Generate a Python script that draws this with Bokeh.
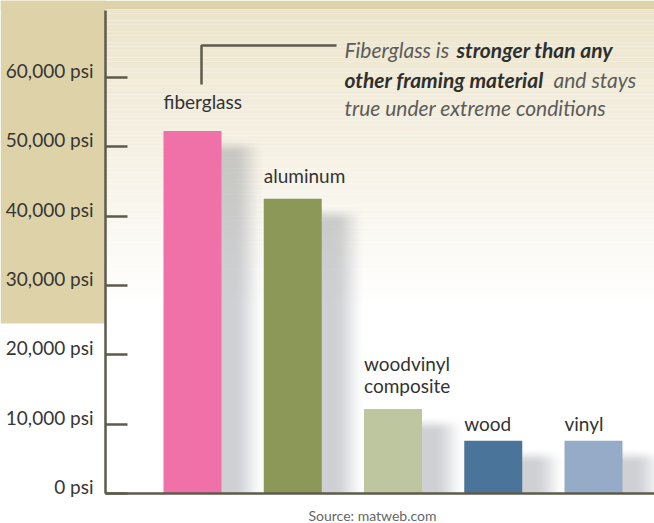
import numpy as np
from bokeh.plotting import figure
from bokeh.models import Range1d, FixedTicker
from bokeh.core.properties import value
from bokeh.embed import file_html
from bokeh.resources import INLINE

# ---------------- data ----------------
materials = ["fiberglass", "aluminum", "woodvinyl\ncomposite", "wood", "vinyl"]
strength_psi = [52300, 42500, 12200, 7600, 7600]
bar_colors = ["#F070A8", "#8C9858", "#BEC6A0", "#4A7499", "#95ABC8"]
tick_values = [0, 10000, 20000, 30000, 40000, 50000, 60000]
tick_labels = ["0 psi", "10,000 psi", "20,000 psi", "30,000 psi",
               "40,000 psi", "50,000 psi", "60,000 psi"]
note_lines = [
    [("Fiberglass is", "italic"), ("stronger than any", "bold italic")],
    [("other framing material", "bold italic"), ("and stays", "italic")],
    [("true under extreme conditions", "italic")],
]
source_note = "Source: matweb.com"

# ---------------- layout (pixels) ----------------
W, H = 654, 523
px_per_unit = 69.33 / 10000.0     # vertical scale
bar_pitch = 100.25                 # px between bar centres
first_center_px = 192
baseline_px = 493
axis_px = 105

def px_x(px):
    return (px - first_center_px) / bar_pitch

def px_y(py):
    return (baseline_px - py) / px_per_unit

x_start, x_end = px_x(0), px_x(W)
y_start, y_end = px_y(H), px_y(0)
bar_w = 58 / bar_pitch
label_gap_px = [21, 15, 15, 9, 9]   # gap between bar top and label baseline
label_line_px = 22
BASE_FIX = 8.5                      # correction for renderer baseline placement

AXIS_COL = "#5E5B4C"
TAN = "#DED3A8"
FONT = "Lato"

p = figure(width=W, height=H, x_range=Range1d(x_start, x_end), y_range=Range1d(y_start, y_end),
           output_backend="svg", toolbar_location=None,
           min_border=0, min_border_left=0, min_border_right=0, min_border_top=0, min_border_bottom=0)
p.outline_line_color = None
p.grid.visible = False
p.background_fill_color = "white"
p.border_fill_color = "white"

# background gradient inside the chart area
n = 80
edges = np.linspace(px_y(305), px_y(9), n + 1)
top_rgb = np.array([236, 228, 203])
t = (np.arange(n) + 0.5) / n
grad_cols = ["#%02x%02x%02x" % tuple(int(round(255 + (c - 255) * ti)) for c in top_rgb) for ti in t]
p.quad(left=px_x(axis_px), right=x_end, bottom=edges[:-1], top=edges[1:],
       fill_color=grad_cols, line_color=None)

# tan panel behind upper y labels, and top strip
p.quad(left=[x_start], right=[px_x(axis_px)], bottom=[px_y(323)], top=[y_end],
       fill_color=TAN, line_color=None)
p.quad(left=[x_start], right=[x_end], bottom=[px_y(8.7)], top=[y_end],
       fill_color=TAN, line_color=None)

xs = np.arange(len(materials))
vals = np.array(strength_psi, dtype=float)

# soft (blurred) drop shadows as small RGBA images
SH_W = 52
def shadow_image(h_px):
    dx = np.arange(SH_W) + 0.5 - 2
    sx = np.clip((44 - dx) / 32, 0, 1)
    sx = sx * sx * (3 - 2 * sx)
    rr = np.arange(h_px) + 0.5
    dtop = h_px - rr
    sy = np.clip((dtop - 8) / 16, 0, 1)
    sy = sy * sy * (3 - 2 * sy)
    alpha = 0.34 * np.outer(sy, sx)
    img = np.empty((h_px, SH_W), dtype=np.uint32)
    view = img.view(dtype=np.uint8).reshape((h_px, SH_W, 4))
    view[..., 0] = 111
    view[..., 1] = 117
    view[..., 2] = 128
    view[..., 3] = np.round(alpha * 255).astype(np.uint8)
    return img

for i in range(len(materials)):
    h_px = int(round(vals[i] * px_per_unit))
    p.image_rgba(image=[shadow_image(h_px)], x=xs[i] + bar_w / 2 - 2 / bar_pitch, y=0,
                 dw=SH_W / bar_pitch, dh=vals[i])

# bars
p.vbar(x=xs, top=vals, width=bar_w, fill_color=bar_colors, line_color=None)

# bar labels (one text mark per line, stacked upward from the bar top)
lab_x, lab_y, lab_t, lab_off = [], [], [], []
for i, name in enumerate(materials):
    lines = name.split("\n")
    for j, ln in enumerate(reversed(lines)):
        lab_x.append(xs[i] - bar_w / 2)
        lab_y.append(vals[i])
        lab_t.append(ln)
        lab_off.append(-(label_gap_px[i] + BASE_FIX + j * label_line_px))
p.text(x=lab_x, y=lab_y, text=lab_t, y_offset=lab_off,
       text_align="left", text_baseline="alphabetic", text_font=value(FONT),
       text_font_size="19px", text_color="#333333")

# annotation bracket
p.line(x=[px_x(201), px_x(201), px_x(336)], y=[px_y(84), px_y(45), px_y(45)],
       line_color=AXIS_COL, line_width=2.5)

note_x = [[344, 456], [344, 553], [344]]
note_y = [48.5, 78.5, 106.5]
for li, line in enumerate(note_lines):
    for si, (txt, style) in enumerate(line):
        bold = "bold" in style
        p.text(x=[px_x(note_x[li][si])], y=[px_y(note_y[li])], text=[txt],
               text_align="left", text_baseline="middle", text_font=value(FONT),
               text_font_size="21px", text_font_style=style,
               text_color="#2f2f2f" if bold else "#5c5c5c")

# y axis (line + inward ticks), labels drawn from the tick arrays
ya = p.yaxis[0]
ya.fixed_location = px_x(axis_px)
ya.bounds = (0, px_y(10))
ya.ticker = FixedTicker(ticks=tick_values)
ya.major_tick_in = 22
ya.major_tick_out = 0
ya.minor_tick_line_color = None
ya.axis_line_color = AXIS_COL
ya.axis_line_width = 2.5
ya.major_tick_line_color = AXIS_COL
ya.major_tick_line_width = 2.5
ya.major_label_text_font_size = "0px"
ya.major_label_text_alpha = 0

p.text(x=[px_x(axis_px)] * len(tick_values), y=tick_values, text=tick_labels,
       x_offset=-12, y_offset=-7, text_align="right", text_baseline="alphabetic",
       text_font=value(FONT), text_font_size="19px", text_color="#363636")

# x axis baseline
xa = p.xaxis[0]
xa.fixed_location = 0
xa.bounds = (px_x(axis_px), x_end)
xa.ticker = FixedTicker(ticks=[])
xa.major_tick_line_color = None
xa.minor_tick_line_color = None
xa.major_label_text_font_size = "0px"
xa.axis_line_color = AXIS_COL
xa.axis_line_width = 2.5

# source note
p.text(x=[px_x(372)], y=[px_y(515)], text=[source_note], text_align="center",
       text_baseline="middle", text_font=value(FONT), text_font_size="14px",
       text_color="#666666")

open("out.html", "w").write(file_html(p, INLINE))
